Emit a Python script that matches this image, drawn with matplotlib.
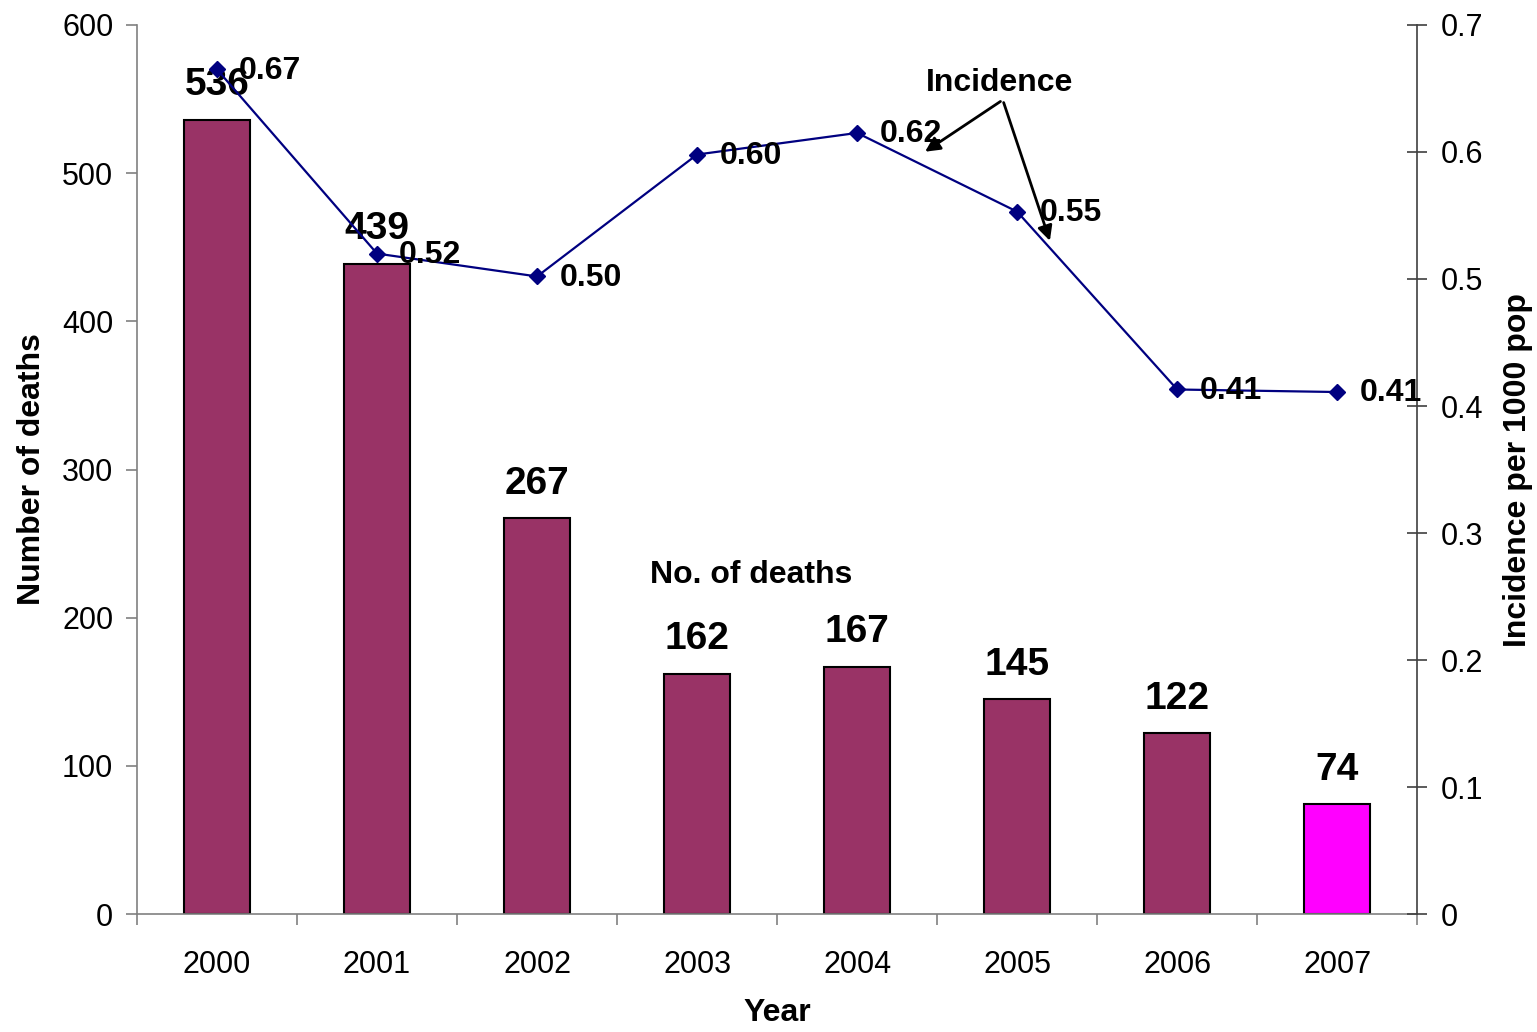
import matplotlib.pyplot as plt
import numpy as np

plt.rcParams['font.family'] = ['Liberation Sans', 'DejaVu Sans']

# data
years = ["2000", "2001", "2002", "2003", "2004", "2005", "2006", "2007"]
deaths = [536, 439, 267, 162, 167, 145, 122, 74]
incidence = [0.665, 0.52, 0.502, 0.598, 0.615, 0.553, 0.413, 0.411]
incidence_labels = ["0.67", "0.52", "0.50", "0.60", "0.62", "0.55", "0.41", "0.41"]
bar_colors = ["#993366"] * 7 + ["#FF00FF"]

fig = plt.figure(figsize=(15.37, 10.32), dpi=100)
ax = fig.add_axes([0.0891, 0.1143, 0.833, 0.8615])
x = np.arange(len(years))

ax.bar(x, deaths, width=0.41, color=bar_colors, edgecolor="black", linewidth=1.5, zorder=2)
for xi, d in zip(x, deaths):
    ax.annotate(str(d), (xi, d), xytext=(0, 12), textcoords="offset points",
                ha="center", va="bottom", fontsize=28, fontweight="bold", zorder=5)

ax.set_xlim(-0.5, 7.5)
ax.set_ylim(0, 600)
ax.set_yticks(range(0, 601, 100))
ax.set_xticks(x)
ax.set_xticklabels(years, fontsize=22)
ax.set_xticks(np.arange(-0.5, 8, 1), minor=True)
ax.tick_params(axis="x", which="major", length=0, pad=26)
ax.tick_params(axis="x", which="minor", length=8, width=1.2, color="#808080", direction="out")
ax.tick_params(axis="y", labelsize=22, length=8, width=1.2, color="#808080", direction="out", pad=9)
ax.set_ylabel("Number of deaths", fontsize=23, fontweight="bold", labelpad=11)
ax.set_xlabel("Year", fontsize=23, fontweight="bold", labelpad=13)
for s in ["top", "right"]:
    ax.spines[s].set_visible(False)
ax.spines["left"].set_color("#808080")
ax.spines["bottom"].set_color("#808080")
ax.spines["left"].set_linewidth(1.2)
ax.spines["bottom"].set_linewidth(1.2)

ax.text(3.34, 229, "No. of deaths", fontsize=23, fontweight="bold", ha="center", va="center")

ax2 = ax.twinx()
ax2.plot(x, incidence, color="#000080", linewidth=1.6, marker="D", markersize=8, zorder=3)
for xi, v, lab in zip(x, incidence, incidence_labels):
    ax2.annotate(lab, (xi, v), xytext=(16, -1), textcoords="offset points",
                 ha="left", va="center", fontsize=23, fontweight="bold")
ax2.set_ylim(0, 0.7)
ax2.set_yticks(np.arange(0, 0.71, 0.1))
ax2.set_yticklabels(["0", "0.1", "0.2", "0.3", "0.4", "0.5", "0.6", "0.7"])
ax2.tick_params(axis="y", labelsize=22, length=14, width=1.2, color="#404040", direction="inout", pad=10)
ax2.set_ylabel("Incidence per 1000 pop", fontsize=23, fontweight="bold", labelpad=14)
for s in ["top", "left", "bottom"]:
    ax2.spines[s].set_visible(False)
ax2.spines["right"].set_color("#404040")
ax2.spines["right"].set_linewidth(1.2)

ax2.text(4.89, 0.654, "Incidence", fontsize=23, fontweight="bold", ha="center", va="center")
for tx, ty in [(4.41, 0.599), (5.21, 0.528)]:
    ax2.annotate("", xy=(tx, ty), xytext=(4.91, 0.641),
                 arrowprops=dict(arrowstyle="-|>", color="black", lw=2, mutation_scale=22))

fig.savefig("out.png", dpi=100)
